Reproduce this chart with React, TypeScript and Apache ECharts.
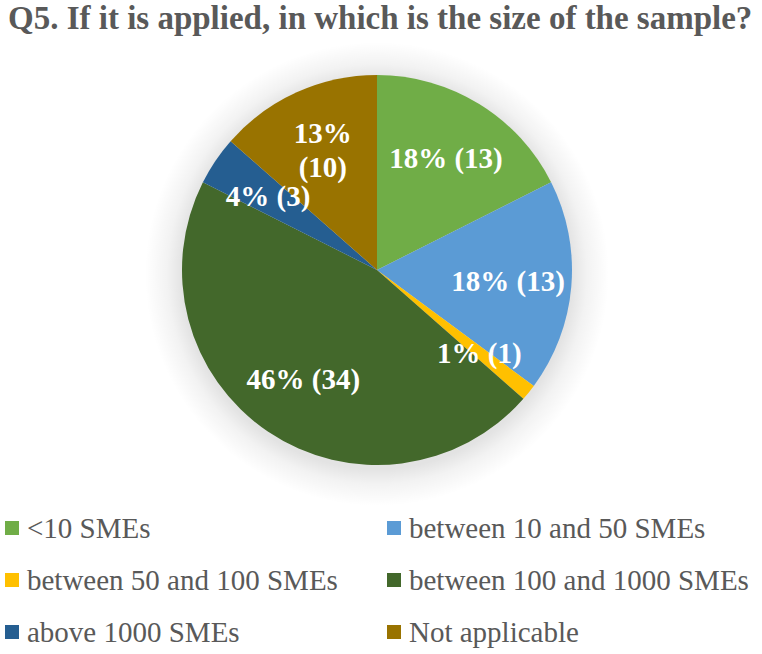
import React, { useEffect, useRef } from "react";
import * as echarts from "echarts";

const titleText = "Q5. If it is applied, in which is the size of the sample?";
const categories = [
  "<10 SMEs",
  "between 10 and 50 SMEs",
  "between 50 and 100 SMEs",
  "between 100 and 1000 SMEs",
  "above 1000 SMEs",
  "Not applicable",
];
const counts = [13, 13, 1, 34, 3, 10];
const colors = ["#70AD47", "#5B9BD5", "#FFC000", "#43682B", "#255E91", "#997300"];
const leftLegend = [categories[0], categories[2], categories[4]];
const rightLegend = [categories[1], categories[3], categories[5]];

const SERIF = "'Times New Roman', 'Liberation Serif', serif";

export default function App() {
  const ref = useRef<HTMLDivElement>(null);
  useEffect(() => {
    if (!ref.current) return;
    const chart = echarts.init(ref.current, undefined, { renderer: "svg" });
    const pieData = categories.map((name, i) => ({
      name,
      value: counts[i],
      itemStyle: { color: colors[i] },
    }));
    const center = [377, 270];
    const shadowR = 232;
    const inner = 195 / shadowR;
    const legendCommon = {
      orient: "vertical" as const,
      top: 513,
      height: 141,
      padding: 0,
      icon: "rect",
      itemWidth: 14,
      itemHeight: 14,
      itemGap: 22,
      selectedMode: false,
      textStyle: {
        fontFamily: SERIF,
        fontSize: 29,
        color: "#595959",
        lineHeight: 30,
        padding: [0, 0, 0, 3],
      },
    };
    chart.setOption({
      animation: false,
      backgroundColor: "#ffffff",
      title: {
        text: titleText,
        left: 3,
        top: -4,
        textStyle: {
          fontFamily: SERIF,
          fontSize: 33,
          fontWeight: "bold",
          color: "#595959",
        },
      },
      legend: [
        { ...legendCommon, left: 5, data: leftLegend },
        { ...legendCommon, left: 387, data: rightLegend },
      ],
      series: [
        {
          type: "pie",
          silent: true,
          center: [center[0], center[1] + 4],
          radius: shadowR,
          z: 1,
          label: { show: false },
          labelLine: { show: false },
          itemStyle: {
            color: new echarts.graphic.RadialGradient(0.5, 0.5, 0.5, [
              { offset: 0, color: "rgba(0,0,0,0.12)" },
              { offset: inner, color: "rgba(0,0,0,0.11)" },
              { offset: inner + (1 - inner) * 0.4, color: "rgba(0,0,0,0.05)" },
              { offset: 1, color: "rgba(0,0,0,0)" },
            ]),
          },
          emphasis: { disabled: true },
          data: [{ name: "shadow", value: 1 }],
          legendHoverLink: false,
        },
        {
          type: "pie",
          center,
          radius: 195,
          z: 2,
          startAngle: 90,
          clockwise: true,
          label: { show: false },
          labelLine: { show: false },
          itemStyle: { borderWidth: 0 },
          data: pieData,
        },
        {
          type: "pie",
          center,
          radius: [62, 195],
          z: 3,
          silent: true,
          startAngle: 90,
          clockwise: true,
          percentPrecision: 0,
          itemStyle: { color: "rgba(0,0,0,0)", borderWidth: 0 },
          emphasis: { disabled: true },
          labelLine: { show: false },
          label: {
            show: true,
            position: "inside",
            color: "#ffffff",
            fontFamily: SERIF,
            fontWeight: "bold",
            fontSize: 29,
            lineHeight: 34,
            formatter: (p: any) =>
              p.name === "Not applicable"
                ? `${p.percent}%\n(${p.value})`
                : `${p.percent}% (${p.value})`,
          },
          labelLayout: { hideOverlap: false },
          data: categories.map((name, i) => ({
            name: i === 5 ? name : name + " ",
            value: counts[i],
          })),
        },
      ],
    });
    return () => chart.dispose();
  }, []);
  return (
    <div
      ref={ref}
      style={{ position: "absolute", left: 0, top: 0, width: 762, height: 654 }}
    />
  );
}
